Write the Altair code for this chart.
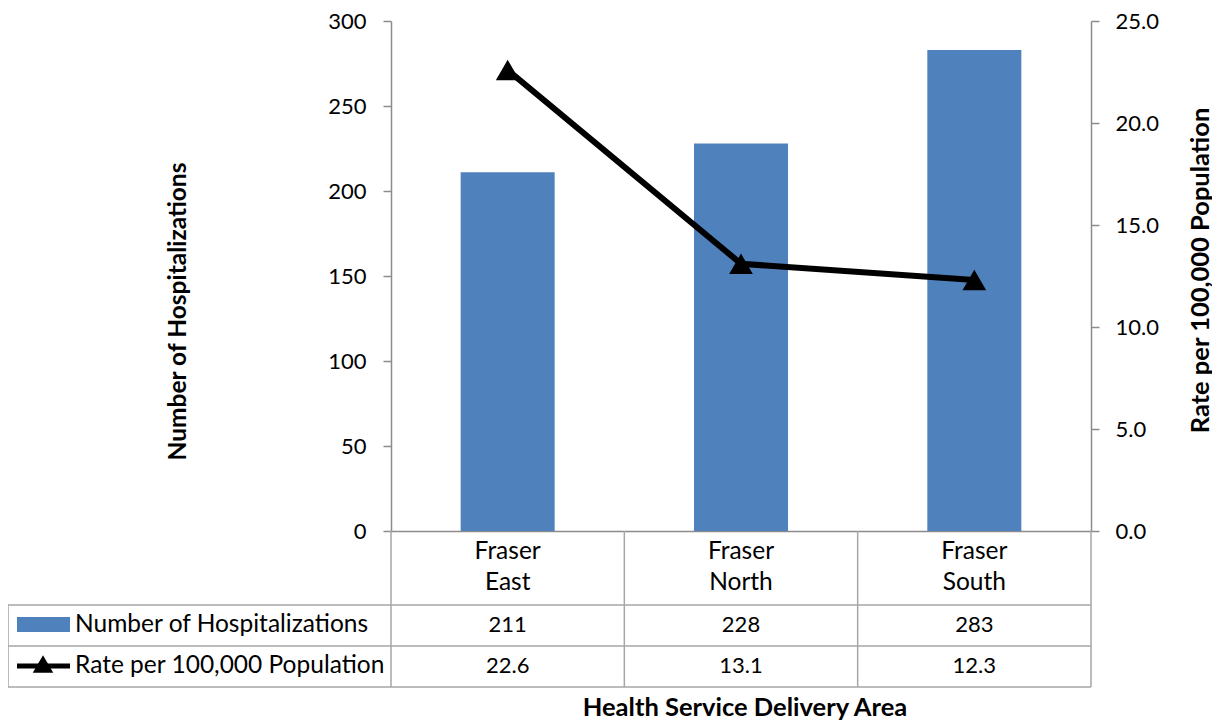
import altair as alt
import pandas as pd

categories = ["Fraser\nEast", "Fraser\nNorth", "Fraser\nSouth"]
hospitalizations = [211, 228, 283]
rates = [22.6, 13.1, 12.3]
rate_labels = ["22.6", "13.1", "12.3"]
series_names = ["Number of Hospitalizations", "Rate per 100,000 Population"]

df = pd.DataFrame({
    "cat": categories,
    "count": hospitalizations,
    "rate": rates,
    "rate_label": rate_labels,
})

FONT = "Lato"
GRAY = "#8c8c8c"
TGRAY = "#a6a6a6"
BLUE = "#4F81BD"
W, H = 700, 510
WORD = 24.5
NUM = 22

xenc = alt.X("cat:N", sort=categories,
             scale=alt.Scale(paddingInner=0, paddingOuter=0),
             axis=alt.Axis(labels=False, ticks=False, title=None,
                           domainColor=GRAY, domainWidth=1.5))

base = alt.Chart(df)

bars = base.mark_bar(color=BLUE, size=94).encode(
    x=xenc,
    y=alt.Y("count:Q", scale=alt.Scale(domain=[0, 300]),
            axis=alt.Axis(values=[0, 50, 100, 150, 200, 250, 300], grid=False,
                          title="Number of Hospitalizations",
                          titleFont=FONT, titleFontSize=24.5, titleFontWeight="bold",
                          titleColor="black", titleAngle=-90,
                          titleX=-213, titleY=290, titleBaseline="middle",
                          labelFont=FONT, labelFontSize=NUM, labelColor="black",
                          labelPadding=17, tickSize=8, tickColor=GRAY, tickWidth=1.5,
                          domainColor=GRAY, domainWidth=1.5)),
)

line = base.mark_line(color="black", strokeWidth=6).encode(
    x=alt.X("cat:N", sort=categories),
    y=alt.Y("rate:Q", scale=alt.Scale(domain=[0, 25]),
            axis=alt.Axis(orient="right", values=[0, 5, 10, 15, 20, 25], format=".1f",
                          grid=False, title="Rate per 100,000 Population",
                          titleFont=FONT, titleFontSize=25.5, titleFontWeight="bold",
                          titleColor="black", titleAngle=-90,
                          titleX=109, titleY=249, titleBaseline="middle",
                          labelFont=FONT, labelFontSize=NUM, labelColor="black",
                          labelPadding=16, tickSize=8, tickColor=GRAY, tickWidth=1.5,
                          domainColor=GRAY, domainWidth=1.5)),
)

points = base.mark_point(shape="triangle-up", filled=True, color="black",
                         size=560, opacity=1).encode(
    x=alt.X("cat:N", sort=categories),
    y=alt.Y("rate:Q", scale=alt.Scale(domain=[0, 25]), axis=None),
)

# --- data table below the plot ---
cat_text = base.mark_text(font=FONT, fontSize=WORD, color="black", lineBreak="\n",
                          lineHeight=31, baseline="middle").encode(
    x=alt.X("cat:N", sort=categories), y=alt.value(531), text="cat:N")
count_text = base.mark_text(font=FONT, fontSize=NUM, color="black", baseline="middle").encode(
    x=alt.X("cat:N", sort=categories), y=alt.value(604), text="count:Q")
rate_text = base.mark_text(font=FONT, fontSize=NUM, color="black", baseline="middle").encode(
    x=alt.X("cat:N", sort=categories), y=alt.value(645), text="rate_label:N")

col_lines = base.mark_rule(color=TGRAY, strokeWidth=1.5).encode(
    x=alt.X("cat:N", sort=categories, bandPosition=0), y=alt.value(H), y2=alt.value(666))
one = alt.Chart(pd.DataFrame({"k": [0]}))
right_line = one.mark_rule(color=TGRAY, strokeWidth=1.5).encode(
    x=alt.value(W), y=alt.value(H), y2=alt.value(666))
left_line = one.mark_rule(color=TGRAY, strokeWidth=1.5).encode(
    x=alt.value(-383), y=alt.value(584), y2=alt.value(666))
hlines = [one.mark_rule(color=TGRAY, strokeWidth=1.5).encode(
    x=alt.value(-383), x2=alt.value(W), y=alt.value(yy)) for yy in (584, 625, 666)]

leg_text0 = alt.Chart(pd.DataFrame({"name": [series_names[0]]})).mark_text(
    font=FONT, fontSize=WORD, color="black", align="left", baseline="middle").encode(
    x=alt.value(-316), y=alt.value(604), text="name:N")
leg_text1 = alt.Chart(pd.DataFrame({"name": [series_names[1]]})).mark_text(
    font=FONT, fontSize=WORD, color="black", align="left", baseline="middle").encode(
    x=alt.value(-316), y=alt.value(645), text="name:N")
leg_rect = one.mark_rect(color=BLUE).encode(
    x=alt.value(-374), x2=alt.value(-321), y=alt.value(596), y2=alt.value(611))
leg_line = one.mark_rule(color="black", strokeWidth=5).encode(
    x=alt.value(-374), x2=alt.value(-321), y=alt.value(645))
leg_tri = one.mark_point(shape="triangle-up", filled=True, color="black",
                         size=420, opacity=1).encode(x=alt.value(-348), y=alt.value(643))

xtitle = alt.Chart(pd.DataFrame({"t": ["Health Service Delivery Area"]})).mark_text(
    font=FONT, fontSize=25.5, fontWeight="bold", color="black", baseline="middle").encode(
    x=alt.value(354), y=alt.value(687), text="t:N")

chart = alt.layer(
    bars, line, points, cat_text, count_text, rate_text, col_lines, right_line,
    left_line, *hlines, leg_rect, leg_line, leg_tri, leg_text0, leg_text1, xtitle
).resolve_scale(y="independent").properties(
    width=W, height=H,
    autosize=alt.AutoSizeParams(type="none"),
    padding={"left": 383, "top": 13, "right": 121, "bottom": 192},
).configure_view(stroke=None)

chart.save("out.html", embed_options={"renderer": "svg", "actions": False})
